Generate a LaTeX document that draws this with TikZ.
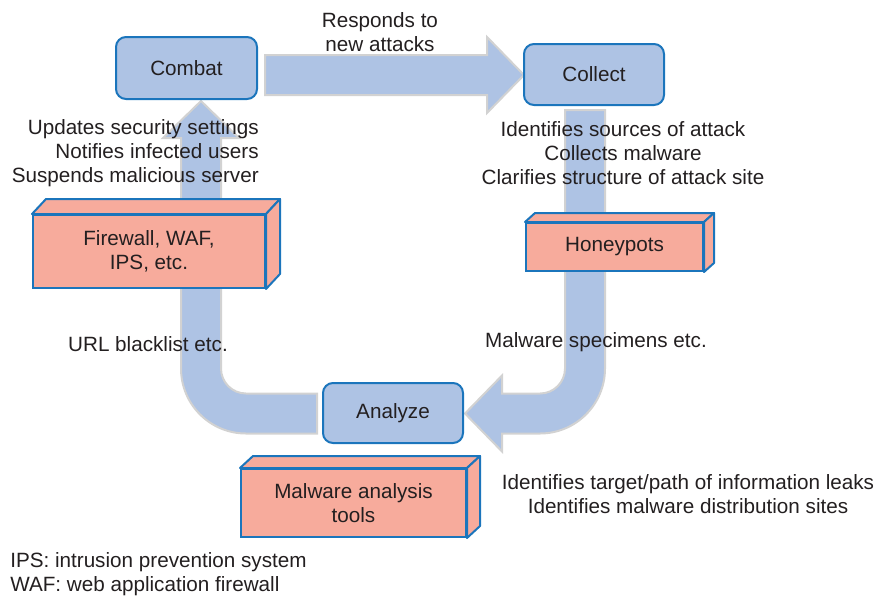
\documentclass[tikz,border=0pt]{standalone}
\usepackage{fontspec}
\setmainfont{Liberation Sans}
\definecolor{flowfill}{HTML}{AEC3E4}
\definecolor{flowedge}{HTML}{D2D2D2}
\definecolor{boxedge}{HTML}{1B75BC}
\definecolor{toolfill}{HTML}{F7AB9C}
\definecolor{ink}{HTML}{231F20}
\begin{document}
\begin{tikzpicture}[x=0.75pt,y=-0.75pt,
  every node/.style={font=\fontsize{15.5pt}{18pt}\selectfont, text=ink},
  flow/.style={fill=flowfill, draw=flowedge, line width=1.5pt, line join=miter},
  stage/.style={draw=boxedge, fill=flowfill, line width=1.5pt, rounded corners=7.5pt,
    minimum width=#1, minimum height=45.5pt, inner sep=0pt},
  tool/.style={draw=boxedge, fill=toolfill, line width=1.5pt, align=center, inner sep=0pt},
  slab/.style={draw=boxedge, fill=toolfill, line width=1.5pt, line join=round},
  note/.style={align=center, inner sep=0pt}]
\useasboundingbox (0,0) rectangle (877,596);

% cycle arrows
\path[flow] (265,55) -- (487,55) -- (487,37) -- (524,75) -- (487,113) -- (487,95) -- (265,95) -- cycle;
\path[flow] (317,393.5) -- (246,393.5) arc[start angle=90, end angle=180, radius=25]
  -- (221,138) -- (239,138) -- (201,101) -- (163,138) -- (181,138)
  -- (181,368.5) arc[start angle=180, end angle=90, radius=65] -- (317,433.5) -- cycle;
\path[flow] (565,110) -- (565,368.5) arc[start angle=0, end angle=90, radius=25]
  -- (502,393.5) -- (502,375.5) -- (465,413.5) -- (502,451.5) -- (502,433.5)
  -- (540,433.5) arc[start angle=90, end angle=0, radius=65] -- (605,110) -- cycle;

% stages
\node[stage=105.75pt, minimum height=46.5pt] (combat) at (186.5,68) {Combat};
\node[stage=105pt, minimum height=45.75pt] (collect) at (594,74.5) {Collect};
\node[stage=105pt, minimum height=45pt] (analyze) at (393,413) {Analyze};

% tools (front faces, then top and side faces)
\node[tool, minimum width=174pt, minimum height=54.75pt] (fw) at (149,251.5) {Firewall, WAF,\\IPS, etc.};
\draw[slab] (fw.north west) -- ++(14,-15) -- ([shift={(14,-15)}]fw.north east) -- (fw.north east) -- cycle;
\draw[slab] (fw.north east) -- ++(14,-15) -- ([shift={(14,-15)}]fw.south east) -- (fw.south east) -- cycle;

\node[tool, minimum width=132.75pt, minimum height=36pt] (hp) at (614.5,247) {Honeypots};
\draw[slab] (hp.north west) -- ++(10,-9) -- ([shift={(10,-9)}]hp.north east) -- (hp.north east) -- cycle;
\draw[slab] (hp.north east) -- ++(10,-9) -- ([shift={(10,-9)}]hp.south east) -- (hp.south east) -- cycle;

\node[tool, minimum width=168.75pt, minimum height=51pt] (mat) at (353.5,503) {Malware analysis\\tools};
\draw[slab] (mat.north west) -- ++(13,-12) -- ([shift={(13,-12)}]mat.north east) -- (mat.north east) -- cycle;
\draw[slab] (mat.north east) -- ++(13,-12) -- ([shift={(13,-12)}]mat.south east) -- (mat.south east) -- cycle;

% labels
\node[note] (respond) at (380,32) {Responds to\\new attacks};
\node[note, align=right, anchor=east] (actions) at (259,153) {Updates security settings\\Notifies infected users\\Suspends malicious server};
\node[note] (gather) at (623,153) {Identifies sources of attack\\Collects malware\\Clarifies structure of attack site};
\node[note] (url) at (148,344) {URL blacklist etc.};
\node[note] (spec) at (596,342) {Malware specimens etc.};
\node[note] (results) at (688,494) {Identifies target/path of information leaks\\Identifies malware distribution sites};
\node[note, align=left, anchor=west] (legend) at (10,574.5) {IPS: intrusion prevention system\\WAF: web application firewall};
\end{tikzpicture}
\end{document}
